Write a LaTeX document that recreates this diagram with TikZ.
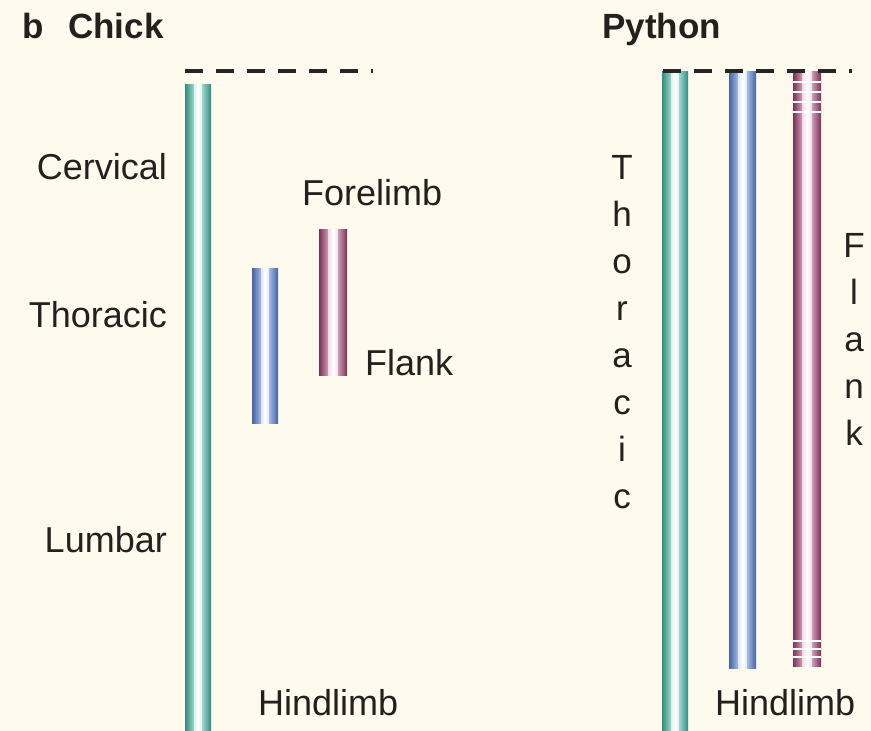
\documentclass[tikz,border=0pt]{standalone}
\usepackage{fontspec}
\setmainfont{Liberation Sans}
\definecolor{bgc}{RGB}{255,250,238}
\definecolor{txt}{RGB}{35,32,30}
\definecolor{tealD}{RGB}{50,140,125}
\definecolor{tealL}{RGB}{160,215,205}
\definecolor{blueD}{RGB}{70,100,160}
\definecolor{blueL}{RGB}{165,185,228}
\definecolor{purD}{RGB}{120,50,85}
\definecolor{purL}{RGB}{205,155,180}
\newcommand\vbarpair[6]{%
  \pgfmathsetmacro\xa{#1+9}\pgfmathsetmacro\xb{#3-9}%
  \fill[left color=#5,right color=#6] (#1,#2) rectangle (\xa,#4);
  \fill[left color=#6!35!white,right color=white] (\xa,#2) rectangle ({(#1+#3)/2},#4);
  \fill[left color=white,right color=#6!35!white] ({(#1+#3)/2},#2) rectangle (\xb,#4);
  \fill[left color=#6,right color=#5] (\xb,#2) rectangle (#3,#4);
}
\tikzset{
  lbl/.style={inner sep=0pt, text=txt, font=\fontsize{36}{42}\selectfont},
  ttl/.style={inner sep=0pt, text=txt, font=\bfseries\fontsize{35}{42}\selectfont},
  vlbl/.style={inner sep=0pt, text=txt, align=center, anchor=north, font=\fontsize{35}{47}\selectfont},
  topline/.style={line width=4pt, dash pattern=on 18pt off 13pt, draw=black!85},
  gapline/.style={line width=2pt, draw=white}
}
\begin{document}
\begin{tikzpicture}[x=1pt,y=-1pt]
\fill[bgc] (0,0) rectangle (871,731);
\useasboundingbox (0,0) rectangle (871,731);
% titles
\node[ttl, anchor=base west] (b) at (22,38) {b};
\node[ttl, anchor=base west] (chick) at (68,38) {Chick};
\node[ttl, anchor=base west] (python) at (602,38) {Python};
% chick bars
\vbarpair{185}{84}{211}{731}{tealD}{tealL}
\vbarpair{252}{268}{278}{423}{blueD}{blueL}
\vbarpair{319}{229}{347}{375}{purD}{purL}
% python bars
\vbarpair{662}{71}{688}{731}{tealD}{tealL}
\vbarpair{729}{71}{756}{668}{blueD}{blueL}
\vbarpair{793}{71}{821}{666}{purD}{purL}
\foreach \yy in {82,92,102,112,641,649,657}
  \draw[gapline] (793,\yy) -- (821,\yy);
% dashed top lines
\draw[topline] (185,71) -- (373,71);
\draw[topline] (663,71) -- (852,71);
% chick labels
\node[lbl, anchor=base east] (cerv) at (167,179) {Cervical};
\node[lbl, anchor=base east] (thor) at (167,327) {Thoracic};
\node[lbl, anchor=base east] (lumb) at (167,552) {Lumbar};
\node[lbl, anchor=base west] (fore) at (302,205) {Forelimb};
\node[lbl, anchor=base west] (flank) at (365,375) {Flank};
\node[lbl, anchor=base west] (hind) at (258,715) {Hindlimb};
% python labels
\node[vlbl] (pthor) at (622,155) {T\\h\\o\\r\\a\\c\\i\\c};
\node[vlbl] (pflank) at (854,233) {F\\l\\a\\n\\k};
\node[lbl, anchor=base west] (phind) at (715,715) {Hindlimb};
\end{tikzpicture}
\end{document}
